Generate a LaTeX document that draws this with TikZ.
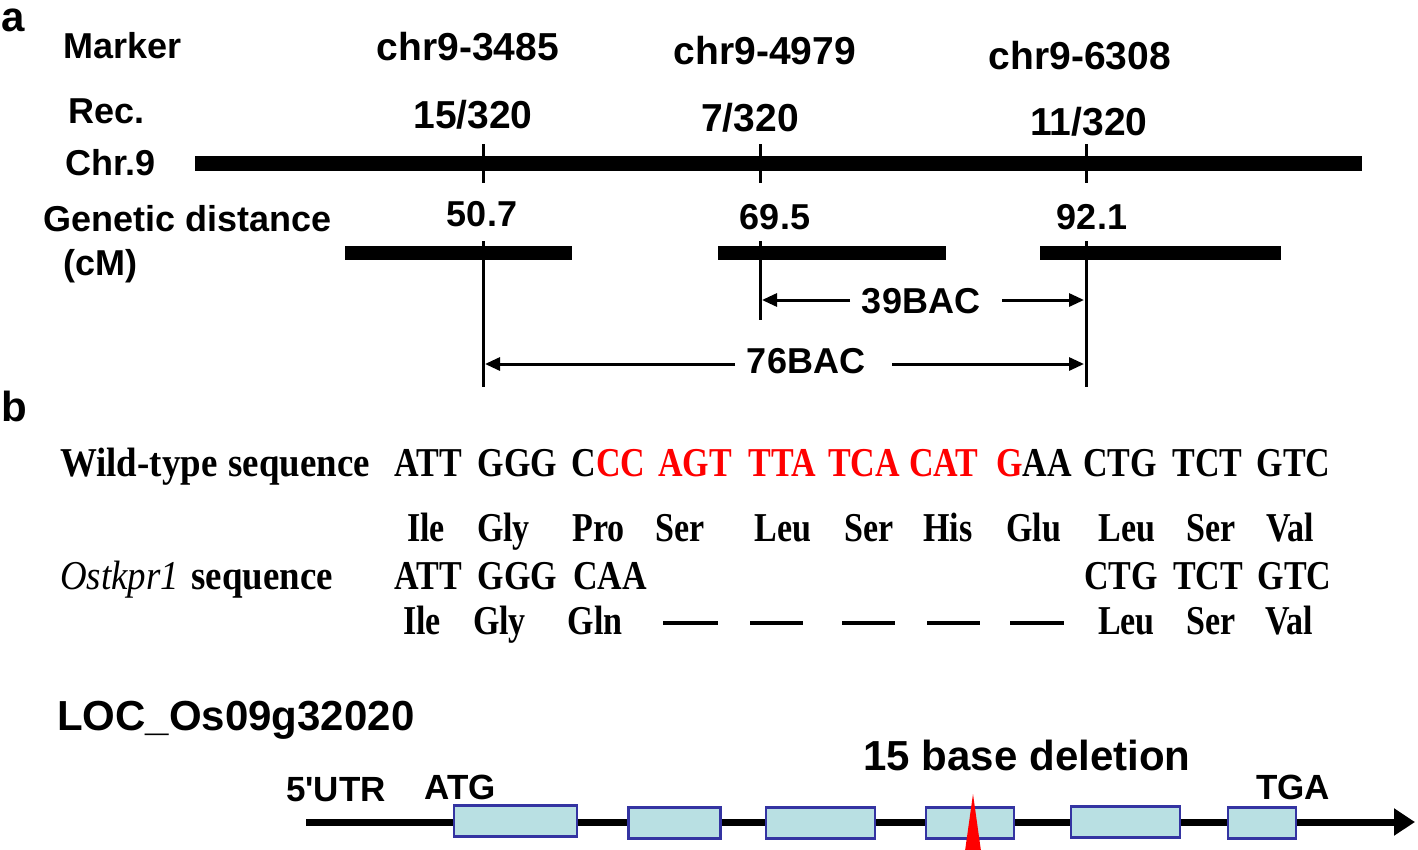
\documentclass[tikz,border=0pt]{standalone}
\usepackage{fontspec}
\setmainfont{Liberation Serif}
\newfontfamily\arialf{Liberation Sans}
\usetikzlibrary{arrows.meta}
\definecolor{exonfill}{HTML}{B9E0E3}
\definecolor{exonedge}{HTML}{3434A2}
\newcommand{\nar}[1]{\scalebox{0.83}[1]{#1}}
\newcommand{\narl}[1]{\scalebox{0.9}[1]{#1}}
\tikzset{
  lab/.style={font=\arialf\bfseries\fontsize{36}{40}\selectfont, inner sep=0pt, anchor=base},
  mk/.style={font=\arialf\bfseries\fontsize{39}{44}\selectfont, inner sep=0pt, anchor=base},
  big/.style={font=\arialf\bfseries\fontsize{42}{46}\selectfont, inner sep=0pt, anchor=base},
  gl/.style={font=\arialf\bfseries\fontsize{35}{40}\selectfont, inner sep=0pt, anchor=base},
  panel/.style={font=\arialf\bfseries\fontsize{42}{46}\selectfont, inner sep=0pt, anchor=base west, text height=0.55em},
  seq/.style={font=\bfseries\fontsize{41}{46}\selectfont, inner sep=0pt, anchor=base},
  chrbar/.style={line width=15pt},
  segbar/.style={line width=14pt},
  vline/.style={line width=3pt},
  bacarrow/.style={line width=3pt, -{Triangle[length=15pt,width=13pt]}},
  gapdash/.style={line width=3.5pt},
  exon/.style={draw=exonedge, fill=exonfill, line width=2.6pt, inner sep=0pt, minimum height=31pt},
}
\begin{document}
\begin{tikzpicture}[x=1pt,y=-1pt]
\path[use as bounding box] (0,0) rectangle (1418,849);
% ---------- panel a ----------
\node[panel] (pa) at (1,31) {a};
\node[lab, anchor=base west] (lmarker) at (63,58) {Marker};
\node[lab, anchor=base west] (lrec) at (68,123) {Rec.};
\node[lab, anchor=base west] (lchr) at (65,175) {Chr.9};
\node[lab, anchor=base west] (lgd) at (43,231) {Genetic distance};
\node[lab, anchor=base west] (lcm) at (63,275) {(cM)};

\node[mk] (m1) at (468,60) {chr9-3485};
\node[mk] (m2) at (765,64) {chr9-4979};
\node[mk] (m3) at (1080,69) {chr9-6308};
\node[mk] (r1) at (473,128) {15/320};
\node[mk] (r2) at (750,131) {7/320};
\node[mk] (r3) at (1089,135) {11/320};
\node[lab] (d1) at (482,226) {50.7};
\node[lab] (d2) at (775,229) {69.5};
\node[lab] (d3) at (1092,229) {92.1};

\coordinate (c0) at (195,163);
\coordinate (c1) at (1362,163);
\draw[chrbar] (c0) -- (c1);
\foreach \x/\n in {483/1,760/2,1086/3}{
  \coordinate (tt\n) at (\x,144);
  \coordinate (tb\n) at (\x,183);
  \draw[vline] (tt\n) -- (tb\n);
}
\coordinate (s1a) at (345,253); \coordinate (s1b) at (572,253);
\coordinate (s2a) at (718,253); \coordinate (s2b) at (946,253);
\coordinate (s3a) at (1040,253); \coordinate (s3b) at (1281,253);
\draw[segbar] (s1a) -- (s1b);
\draw[segbar] (s2a) -- (s2b);
\draw[segbar] (s3a) -- (s3b);

\coordinate (v1a) at (483,241); \coordinate (v1b) at (483,387);
\coordinate (v2a) at (760,241); \coordinate (v2b) at (760,320);
\coordinate (v3a) at (1086,241); \coordinate (v3b) at (1086,387);
\draw[vline] (v1a) -- (v1b);
\draw[vline] (v2a) -- (v2b);
\draw[vline] (v3a) -- (v3b);

\node[lab] (bac39) at (921,313) {39BAC};
\coordinate (a39l) at (762,300); \coordinate (a39r) at (1084,300);
\coordinate (a39lt) at (850,300); \coordinate (a39rt) at (1002,300);
\draw[bacarrow] (a39lt) -- (a39l);
\draw[bacarrow] (a39rt) -- (a39r);

\node[lab] (bac76) at (806,373) {76BAC};
\coordinate (a76l) at (485,364); \coordinate (a76r) at (1084,364);
\coordinate (a76lt) at (735,364); \coordinate (a76rt) at (892,364);
\draw[bacarrow] (a76lt) -- (a76l);
\draw[bacarrow] (a76rt) -- (a76r);

% ---------- panel b ----------
\node[panel] (pb) at (1,421) {b};

\node[seq, anchor=base west] (wt1) at (60,476) {\narl{Wild-type}};
\node[seq, anchor=base east] (wt2) at (370,476) {\narl{sequence}};
\node[seq, anchor=base west] (mt1) at (60,589) {\narl{\mdseries\itshape Ostkpr1}};
\node[seq, anchor=base east] (mt2) at (333,589) {\narl{sequence}};

% wild-type codons
\node[seq] (w1) at (428.5,476) {\nar{ATT}};
\node[seq] (w2) at (517.5,476) {\nar{GGG}};
\node[seq] (w3) at (608.5,476) {\nar{C\textcolor{red}{CC}}};
\node[seq, text=red] (w4) at (695,476) {\nar{AGT}};
\node[seq, text=red] (w5) at (782.5,476) {\nar{TTA}};
\node[seq, text=red] (w6) at (864,476) {\nar{TCA}};
\node[seq, text=red] (w7) at (944,476) {\nar{CAT}};
\node[seq] (w8) at (1034,476) {\nar{\textcolor{red}{G}AA}};
\node[seq] (w9) at (1120,476) {\nar{CTG}};
\node[seq] (w10) at (1207.5,476) {\nar{TCT}};
\node[seq] (w11) at (1293.5,476) {\nar{GTC}};
% wild-type amino acids
\node[seq] (p1) at (426,541) {\nar{Ile}};
\node[seq] (p2) at (503.5,541) {\nar{Gly}};
\node[seq] (p3) at (598.5,541) {\nar{Pro}};
\node[seq] (p4) at (680,541) {\nar{Ser}};
\node[seq] (p5) at (783,541) {\nar{Leu}};
\node[seq] (p6) at (869,541) {\nar{Ser}};
\node[seq] (p7) at (948,541) {\nar{His}};
\node[seq] (p8) at (1033.5,541) {\nar{Glu}};
\node[seq] (p9) at (1127,541) {\nar{Leu}};
\node[seq] (p10) at (1211.5,541) {\nar{Ser}};
\node[seq] (p11) at (1290,541) {\nar{Val}};
% mutant codons
\node[seq] (u1) at (428.5,589) {\nar{ATT}};
\node[seq] (u2) at (517.5,589) {\nar{GGG}};
\node[seq] (u3) at (610,589) {\nar{CAA}};
\node[seq] (u9) at (1121,589) {\nar{CTG}};
\node[seq] (u10) at (1208,589) {\nar{TCT}};
\node[seq] (u11) at (1294.5,589) {\nar{GTC}};
% mutant amino acids
\node[seq] (q1) at (422,634) {\nar{Ile}};
\node[seq] (q2) at (499.5,634) {\nar{Gly}};
\node[seq] (q3) at (595,634) {\nar{Gln}};
\node[seq] (q9) at (1126.5,634) {\nar{Leu}};
\node[seq] (q10) at (1211,634) {\nar{Ser}};
\node[seq] (q11) at (1289,634) {\nar{Val}};
\foreach \a/\b/\n in {663/718/1,750/803/2,842/895/3,927/980/4,1010/1064/5}{
  \coordinate (dl\n) at (\a,623);
  \coordinate (dr\n) at (\b,623);
  \draw[gapdash] (dl\n) -- (dr\n);
}

% ---------- gene model ----------
\node[big, anchor=base west] (loc) at (57,730) {LOC\_Os09g32020};
\node[big] (del) at (1027,770) {15 base deletion};
\node[gl, anchor=base west] (utr) at (286,801) {5'UTR};
\node[gl] (atg) at (460,799) {ATG};
\node[gl] (tga) at (1293,799) {TGA};

\coordinate (g0) at (306,822);
\coordinate (g1) at (1415,822);
\draw[line width=7pt, -{Triangle[length=21pt,width=26pt]}] (g0) -- (g1);

\node[exon, minimum width=123pt] (e1) at (515.5,821) {};
\node[exon, minimum width=92pt] (e2) at (674.5,823) {};
\node[exon, minimum width=109pt] (e3) at (820.5,823) {};
\node[exon, minimum width=88pt] (e4) at (970,823) {};
\node[exon, minimum width=109pt] (e5) at (1125.5,822) {};
\node[exon, minimum width=68pt] (e6) at (1262,823) {};

\coordinate (trtop) at (973,794);
\coordinate (trl) at (965,851);
\coordinate (trr) at (981,851);
\fill[red] (trl) -- (trtop) -- (trr) -- cycle;
\end{tikzpicture}
\end{document}
